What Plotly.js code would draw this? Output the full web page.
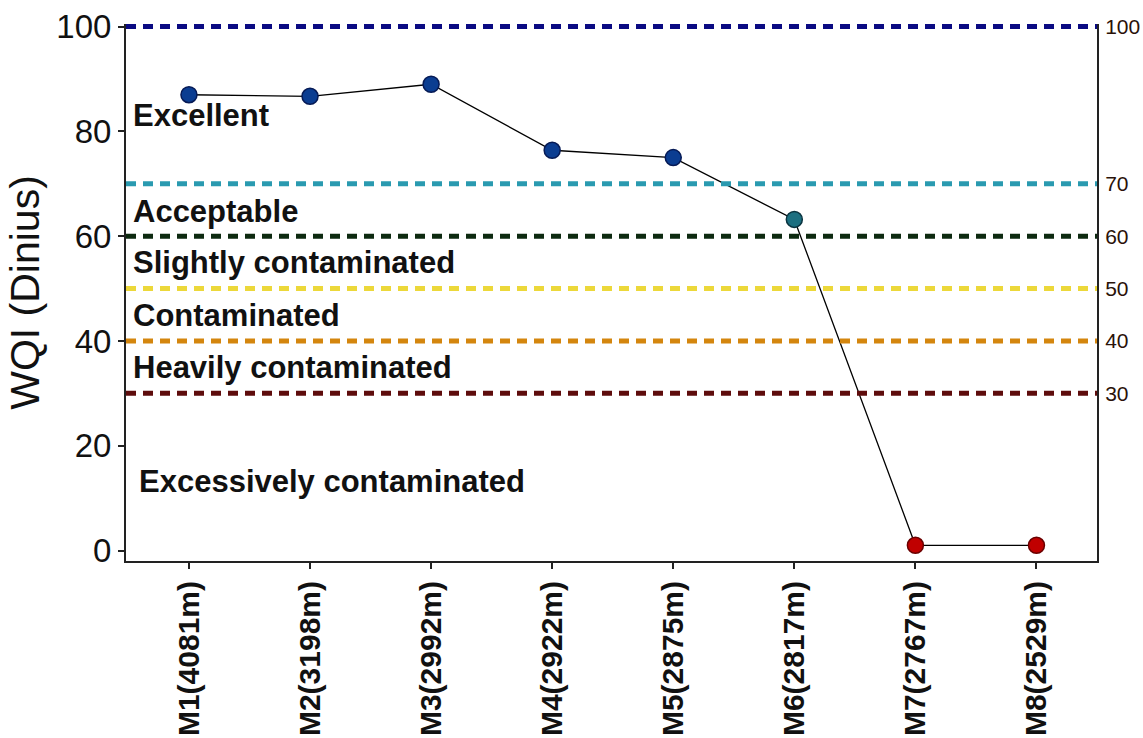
<!DOCTYPE html>
<html>
<head>
<meta charset="utf-8">
<script src="https://cdn.plot.ly/plotly-3.0.1.min.js"></script>
<style>html,body{margin:0;padding:0;background:#fff;}#chart{width:1143px;height:738px;}</style>
</head>
<body>
<div id="chart"></div>
<script>
const sites = ["M1(4081m)", "M2(3198m)", "M3(2992m)", "M4(2922m)", "M5(2875m)", "M6(2817m)", "M7(2767m)", "M8(2529m)"];
const wqi = [87.0, 86.7, 89.0, 76.4, 75.0, 63.2, 1.0, 1.0];
const markerColors = ["#0b3d91", "#0b3d91", "#0b3d91", "#0b3d91", "#0b3d91", "#1c6f80", "#c00000", "#c00000"];
const markerEdges = ["#061a55", "#061a55", "#061a55", "#061a55", "#061a55", "#0b3440", "#6a0000", "#6a0000"];
const thresholds = [100, 70, 60, 50, 40, 30];
const thresholdColors = ["#0a0a82", "#2a9ab0", "#0d2a10", "#ecd83a", "#d4860e", "#5e0c0c"];
const classNames = ["Excellent", "Acceptable", "Slightly contaminated", "Contaminated", "Heavily contaminated", "Excessively contaminated"];
const classY = [83, 64.8, 55, 44.8, 35, 13.1];
const yTicks = [0, 20, 40, 60, 80, 100];

const xIdx = sites.map((_, i) => i);

const traces = [
  {
    x: xIdx, y: wqi, type: "scatter", mode: "lines+markers",
    line: {color: "#000", width: 1.3},
    marker: {size: 16, color: markerColors, line: {color: markerEdges, width: 1.5}},
    showlegend: false, hoverinfo: "y"
  },
  {
    x: xIdx, y: wqi, type: "scatter", mode: "none", yaxis: "y2",
    showlegend: false, hoverinfo: "skip"
  }
];

const shapes = thresholds.map((t, i) => ({
  type: "line", xref: "paper", yref: "y", x0: 0, x1: 1, y0: t, y1: t,
  line: {color: thresholdColors[i], width: 5, dash: "10px,7px"}, layer: "above"
}));

const annotations = classNames.map((n, i) => ({
  text: "<b>" + n + "</b>", xref: "paper", yref: "y",
  x: i === 5 ? 0.011 : 0.005, y: classY[i], xanchor: "left", yanchor: "middle",
  showarrow: false, font: {family: "Liberation Sans, Arial, sans-serif", size: 31, color: "#111"}
}));

const layout = {
  width: 1143, height: 738,
  margin: {l: 126, r: 46, t: 24, b: 177},
  paper_bgcolor: "#fff", plot_bgcolor: "#fff",
  font: {family: "Liberation Sans, Arial, sans-serif", color: "#111"},
  xaxis: {
    range: [-0.52, 7.5], tickvals: xIdx, ticktext: sites, tickangle: -90,
    tickfont: {size: 30, color: "#111", weight: "bold"},
    showgrid: false, zeroline: false, showline: true, linecolor: "#222", linewidth: 2,
    ticks: "outside", ticklen: 6, tickwidth: 2, tickcolor: "#222", mirror: false
  },
  yaxis: {
    range: [-2, 100.5], tickvals: yTicks,
    tickfont: {size: 33, color: "#111"},
    showgrid: false, zeroline: false, showline: true, linecolor: "#222", linewidth: 2,
    ticks: "outside", ticklen: 6, tickwidth: 2, tickcolor: "#222",
    title: {text: "WQI (Dinius)", font: {size: 41, color: "#111"}, standoff: 4}
  },
  yaxis2: {
    overlaying: "y", side: "right", range: [-2, 100.5], tickvals: thresholds,
    tickfont: {size: 21, color: "#2a1208"}, showgrid: false, zeroline: false,
    showline: true, linecolor: "#222", linewidth: 2, ticks: "", ticklabelstandoff: 2
  },
  shapes: shapes,
  annotations: annotations
};

Plotly.newPlot("chart", traces, layout, {displayModeBar: false, staticPlot: true});
</script>
</body>
</html>
